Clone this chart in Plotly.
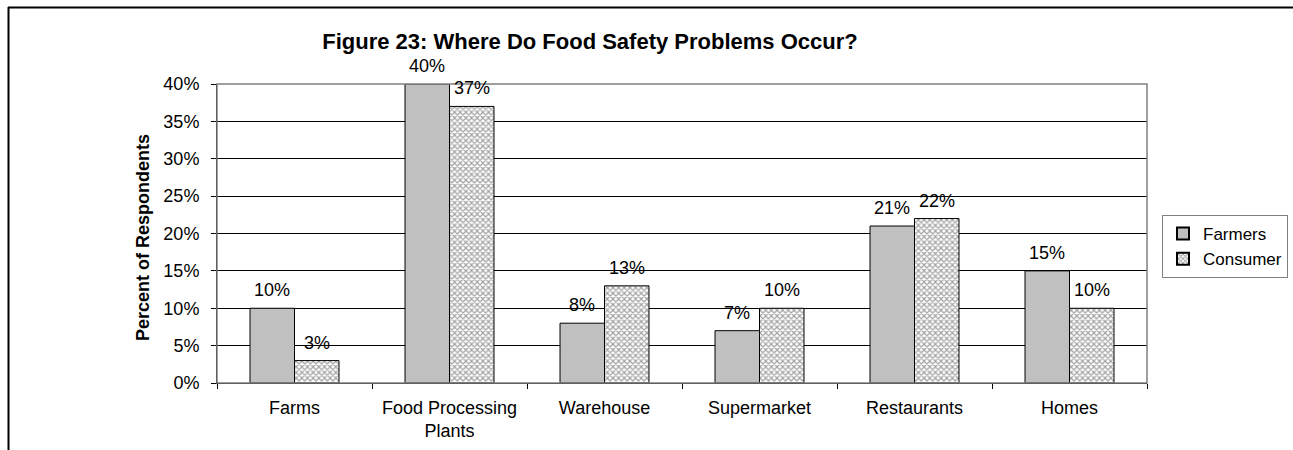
import plotly.graph_objects as go

categories = ["Farms", "Food Processing<br>Plants", "Warehouse", "Supermarket", "Restaurants", "Homes"]
farmers = [10, 40, 8, 7, 21, 15]
consumer = [3, 37, 13, 10, 22, 10]
y_ticks = [0, 5, 10, 15, 20, 25, 30, 35, 40]
y_tick_labels = [f"{v}%" for v in y_ticks]

W, H = 1293, 450
L, R, T, B = 217, 1147, 84, 383   # plot area in pixels
FONT = "Liberation Sans, Arial, sans-serif"

def px_x(px):
    return (px - L) / (R - L)

def px_y(py):
    return (B - py) / (B - T)

fig = go.Figure()
fig.add_trace(go.Bar(
    x=categories, y=farmers, name="Farmers",
    marker=dict(color="#C0C0C0", line=dict(color="black", width=1)),
))
fig.add_trace(go.Bar(
    x=categories, y=consumer, name="Consumer",
    marker=dict(color="white", line=dict(color="black", width=1),
                pattern=dict(shape="x", fgcolor="#444444", bgcolor="white", size=4, solidity=0.5)),
))

# data labels
bar_px = 44.5
annotations = []
for series, shift in ((farmers, -bar_px / 2), (consumer, bar_px / 2)):
    for c, v in zip(categories, series):
        annotations.append(dict(
            x=c, y=v, xref="x", yref="y", text=f"{v}%", showarrow=False,
            xshift=shift, yshift=18, yanchor="middle",
            font=dict(family=FONT, size=18, color="black"),
        ))
# y axis title
annotations.append(dict(
    x=px_x(143), y=px_y(238), xref="paper", yref="paper", text="<b>Percent of Respondents</b>",
    textangle=-90, showarrow=False, xanchor="center", yanchor="middle",
    font=dict(family=FONT, size=18, color="black"),
))

shapes = [
    # plot frame (gray)
    dict(type="rect", xref="paper", yref="paper", x0=0, x1=1, y0=0, y1=1,
         line=dict(color="#808080", width=1.5), layer="above"),
    # outer chart frame (left and top edges)
    dict(type="line", xref="paper", yref="paper", x0=px_x(8.5), x1=px_x(8.5), y0=px_y(7), y1=px_y(452),
         line=dict(color="black", width=2)),
    dict(type="line", xref="paper", yref="paper", x0=px_x(8), x1=px_x(1295), y0=px_y(7.5), y1=px_y(7.5),
         line=dict(color="black", width=2)),
]

fig.update_layout(
    width=W, height=H,
    margin=dict(l=L, r=W - R, t=T, b=H - B, autoexpand=False),
    paper_bgcolor="white", plot_bgcolor="white",
    barmode="group", bargap=0.426, bargroupgap=0,
    font=dict(family=FONT, size=18, color="black"),
    title=dict(text="<b>Figure 23: Where Do Food Safety Problems Occur?</b>",
               x=590 / W, xref="container", xanchor="center",
               y=1 - 41 / H, yref="container", yanchor="middle",
               font=dict(family=FONT, size=22, color="black")),
    legend=dict(x=px_x(1162), y=px_y(215), xanchor="left", yanchor="top",
                bordercolor="#808080", borderwidth=1, bgcolor="white",
                font=dict(family=FONT, size=17, color="black"),
                itemsizing="constant", itemwidth=30),
    annotations=annotations,
    shapes=shapes,
    xaxis=dict(showline=True, linecolor="black", linewidth=1, ticks="outside", ticklen=5,
               tickcolor="black", tickson="boundaries", showgrid=False,
               tickfont=dict(family=FONT, size=18), ticklabelstandoff=8, fixedrange=True),
    yaxis=dict(range=[0, 40], tickvals=y_ticks, ticktext=y_tick_labels,
               showline=True, linecolor="black", linewidth=1, ticks="outside", ticklen=5,
               tickcolor="black", showgrid=True, gridcolor="black", gridwidth=1,
               zeroline=False, tickfont=dict(family=FONT, size=18), ticklabelstandoff=8,
               fixedrange=True),
    showlegend=True,
)

fig.write_html("out.html")
